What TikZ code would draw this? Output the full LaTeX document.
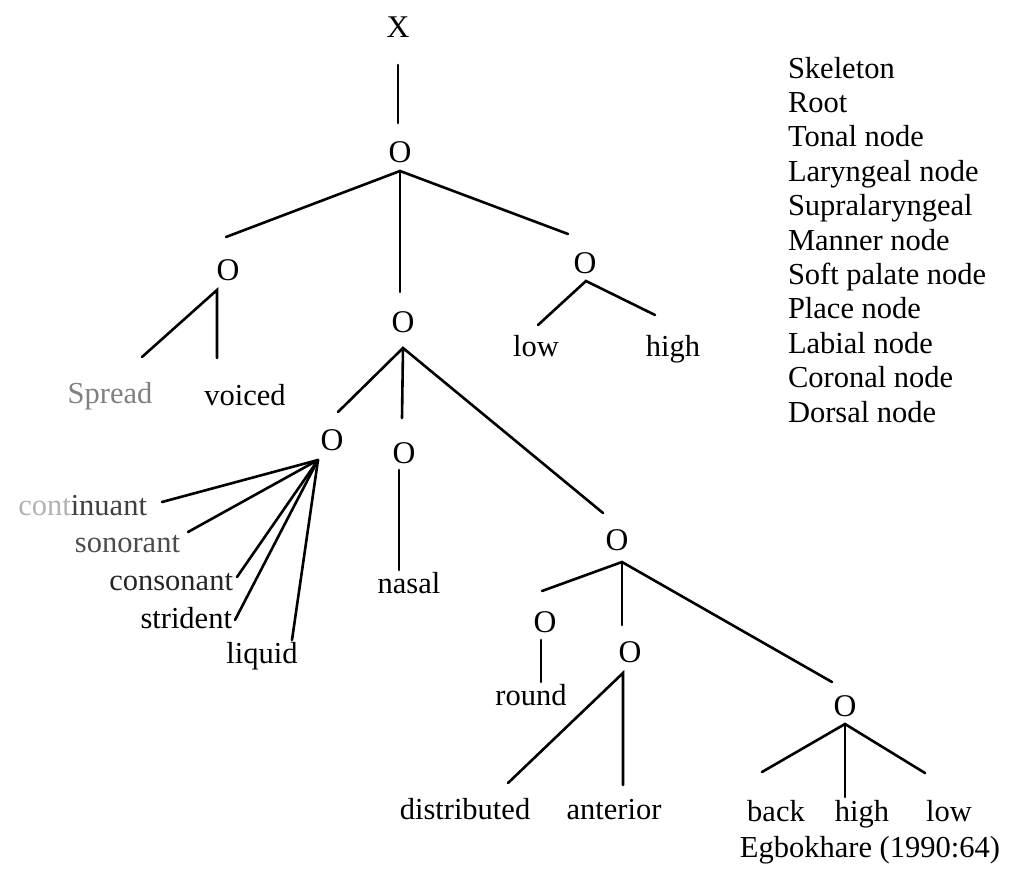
\documentclass[tikz,border=0pt]{standalone}
\usepackage{fontspec}
\setmainfont{Liberation Serif}
\usetikzlibrary{calc}
\begin{document}
\begin{tikzpicture}[x=0.5pt,y=-0.5pt,
  every node/.style={inner sep=0pt,outer sep=0pt,font=\fontsize{15.25}{17}\selectfont},
  tnode/.style={anchor=base,font=\fontsize{15.8}{17}\selectfont},
  feat/.style={anchor=base},
  featr/.style={anchor=base east},
  legend/.style={anchor=base west},
  link/.style={line width=1.3pt,line cap=round}]
\useasboundingbox (0,0) rectangle (1028,868);

% tree nodes
\node[tnode] (skel)    at (398,37)  {X};
\node[tnode] (root)    at (400,162) {O};
\node[tnode] (lar)     at (228,280) {O};
\node[tnode] (tone)    at (585,273) {O};
\node[tnode] (supra)   at (403,332) {O};
\node[tnode] (manner)  at (332,450) {O};
\node[tnode] (soft)    at (404,463) {O};
\node[tnode] (place)   at (617,550) {O};
\node[tnode] (labial)  at (545,632) {O};
\node[tnode] (coronal) at (630,662) {O};
\node[tnode] (dorsal)  at (845,716) {O};

% terminal features
\node[feat,text=black!50] (spread) at (110,403) {Spread};
\node[feat] (voiced) at (245,405) {voiced};
\node[feat] (low)    at (536,356) {low};
\node[feat] (high)   at (673,356) {high};
\node[featr] (cont)  at (147,515) {\textcolor{black!30}{cont}\textcolor{black!75}{inuant}};
\node[featr,text=black!70] (son) at (180,552) {sonorant};
\node[featr,text=black!85] (cons) at (233,590) {consonant};
\node[featr] (strid) at (232,628) {strident};
\node[feat] (liquid) at (262,663) {liquid};
\node[feat] (nasal)  at (409,593) {nasal};
\node[feat] (round)  at (531,705) {round};
\node[feat] (dist)   at (465,819) {distributed};
\node[feat] (ant)    at (614,819) {anterior};
\node[feat] (back)   at (776,821) {back};
\node[feat] (high2)  at (862,821) {high};
\node[feat] (low2)   at (949,821) {low};
\node[featr] (cite)  at (1000,857) {Egbokhare (1990:64)};

% legend of node names
\foreach \t [count=\i from 0] in {Skeleton,Root,Tonal node,Laryngeal node,Supralaryngeal,Manner node,Soft palate node,Place node,Labial node,Coronal node,Dorsal node}
  \node[legend] (leg\i) at (788,78+34.4*\i) {\t};

% association lines
\draw[link] ($(skel.base)+(0,28)$) -- ($(root.base)+(-2,-39)$);

\coordinate (root-f) at ($(root.base)+(0,9)$);
\draw[link] ($(lar.base)+(-2,-43)$) -- (root-f) -- ($(tone.base)+(-17,-39)$);
\draw[link] (root-f) -- ($(supra.base)+(-3,-40)$);

\coordinate (lar-f) at ($(lar.base)+(-11,10)$);
\draw[link] ($(spread.base)+(32,-46)$) -- (lar-f) -- ($(voiced.base)+(-28,-47)$);

\coordinate (tone-f) at ($(tone.base)+(1,8)$);
\draw[link] ($(low.base)+(2,-31)$) -- (tone-f) -- ($(high.base)+(-18,-41)$);

\coordinate (supra-f) at ($(supra.base)+(0,16)$);
\draw[link] ($(manner.base)+(6,-38)$) -- (supra-f) -- ($(place.base)+(-14,-37)$);
\draw[link] (supra-f) -- ($(soft.base)+(-2,-45)$);

\coordinate (manner-f) at ($(manner.base)+(-14,10)$);
\draw[link] (manner-f) -- ($(cont.base east)+(15,-13)$);
\draw[link] (manner-f) -- ($(son.base east)+(8,-20)$);
\draw[link] (manner-f) -- ($(cons.base east)+(4,-13)$);
\draw[link] (manner-f) -- ($(strid.base east)+(3,-8)$);
\draw[link] (manner-f) -- ($(liquid.base)+(30,-23)$);

\draw[link] ($(soft.base)+(-5,7)$) -- ($(nasal.base)+(-10,-23)$);

\coordinate (place-f) at ($(place.base)+(5,12)$);
\draw[link] ($(labial.base)+(-3,-41)$) -- (place-f) -- ($(dorsal.base)+(-13,-34)$);
\draw[link] (place-f) -- ($(coronal.base)+(-8,-37)$);

\draw[link] ($(labial.base)+(-4,8)$) -- ($(round.base)+(10,-23)$);

\coordinate (coronal-f) at ($(coronal.base)+(-7,11)$);
\draw[link] ($(dist.base)+(43,-36)$) -- (coronal-f) -- ($(ant.base)+(9,-34)$);

\coordinate (dorsal-f) at ($(dorsal.base)+(0,8)$);
\draw[link] ($(back.base)+(-14,-49)$) -- (dorsal-f) -- ($(low2.base)+(-24,-48)$);
\draw[link] (dorsal-f) -- ($(high2.base)+(-17,-24)$);
\end{tikzpicture}
\end{document}
